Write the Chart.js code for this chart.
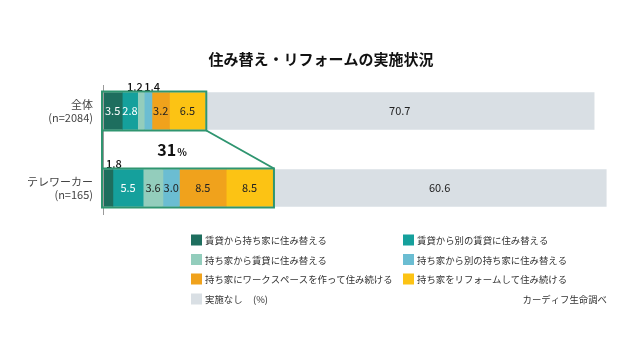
<!DOCTYPE html>
<html>
<head>
<meta charset="utf-8">
<script src="https://cdn.jsdelivr.net/npm/chart.js@4"></script>
<style>
  body { margin: 0; background: #fff; }
  #wrap { width: 640px; height: 360px; position: relative; }
</style>
</head>
<body>
<div id="wrap"><canvas id="chart"></canvas></div>
<script>
// categories and series (%)
const categories = [['全体', '(n=2084)'], ['テレワーカー', '(n=165)']];
const seriesNames = [
  '賃貸から持ち家に住み替える',
  '賃貸から別の賃貸に住み替える',
  '持ち家から賃貸に住み替える',
  '持ち家から別の持ち家に住み替える',
  '持ち家にワークスペースを作って住み続ける',
  '持ち家をリフォームして住み続ける',
  '実施なし'
];
const rentToOwn = [3.5, 1.8];
const rentToRent = [2.8, 5.5];
const ownToRent = [1.2, 3.6];
const ownToOwn = [1.4, 3.0];
const workspace = [3.2, 8.5];
const reform = [6.5, 8.5];
const noChange = [70.7, 60.6];

const colors = ['#1e6e5e', '#15a09c', '#93cdbc', '#6bbdd2', '#f0a21c', '#fcc314', '#d9dfe4'];
const labelColors = ['#fff', '#fff', '#222', '#222', '#222', '#222', '#222'];
const FONT = "'Noto Sans CJK JP', 'Noto Sans', sans-serif";
const FRAME = '#2f9570';

const allSeries = [rentToOwn, rentToRent, ownToRent, ownToOwn, workspace, reform, noChange];

const overlay = {
  id: 'overlay',
  afterDatasetsDraw(chart) {
    const ctx = chart.ctx;
    const xs = chart.scales.x;
    const area = chart.chartArea;
    ctx.save();

    // value labels
    chart.data.datasets.forEach((ds, di) => {
      const meta = chart.getDatasetMeta(di);
      meta.data.forEach((el, i) => {
        const v = ds.data[i];
        const cx = (el.x + el.base) / 2;
        ctx.textAlign = 'center';
        ctx.textBaseline = 'middle';
        if (el.x - el.base < 12) {
          // small segment: label above the bar
          let off = 0;
          if (i === 0) off = di === 2 ? -6 : 4;
          else off = 6;
          ctx.fillStyle = '#111';
          ctx.font = '500 11px ' + FONT;
          ctx.fillText(v.toFixed(1), cx + off, el.y - el.height / 2 - 6);
        } else {
          ctx.font = '11px ' + FONT;
          ctx.fillStyle = labelColors[di];
          ctx.fillText(v.toFixed(1), cx, el.y);
        }
      });
    });

    // vertical axis line
    ctx.strokeStyle = '#9a9a9a';
    ctx.lineWidth = 1;
    ctx.beginPath();
    ctx.moveTo(area.left + 0.5, 85);
    ctx.lineTo(area.left + 0.5, 215);
    ctx.stroke();

    // frames around the "実施あり" part and the zoom trapezoid
    const boxes = categories.map((c, i) => {
      let sum = 0;
      for (let k = 0; k < 6; k++) sum += allSeries[k][i];
      const el = chart.getDatasetMeta(0).data[i];
      return {
        l: xs.getPixelForValue(0) - 1,
        r: xs.getPixelForValue(sum) + 1,
        t: el.y - el.height / 2 - 1,
        b: el.y + el.height / 2 + 1,
        sum: sum
      };
    });
    ctx.strokeStyle = FRAME;
    ctx.lineWidth = 2;
    boxes.forEach(b => ctx.strokeRect(b.l, b.t, b.r - b.l, b.b - b.t));
    ctx.beginPath();
    ctx.moveTo(boxes[0].r, boxes[0].b);
    ctx.lineTo(boxes[1].r, boxes[1].t);
    ctx.moveTo(boxes[0].l, boxes[0].b);
    ctx.lineTo(boxes[1].l, boxes[1].t);
    ctx.stroke();

    // 31%
    const midY = (boxes[0].b + boxes[1].t) / 2;
    const midX = (area.left + (boxes[0].r + boxes[1].r) / 2) / 2;
    const big = String(Math.round(boxes[1].sum));
    ctx.fillStyle = '#111';
    ctx.textBaseline = 'alphabetic';
    ctx.font = 'bold 16px ' + FONT;
    const w1 = ctx.measureText(big).width;
    ctx.font = 'bold 10px ' + FONT;
    const w2 = ctx.measureText('%').width;
    const sx = midX - (w1 + w2) / 2;
    ctx.textAlign = 'left';
    ctx.font = 'bold 16px ' + FONT;
    ctx.fillText(big, sx, midY + 6);
    ctx.font = 'bold 10px ' + FONT;
    ctx.fillText('%', sx + w1 + 1, midY + 6);

    // title
    ctx.textAlign = 'center';
    ctx.textBaseline = 'middle';
    ctx.font = 'bold 15px ' + FONT;
    ctx.fillStyle = '#111';
    ctx.fillText('住み替え・リフォームの実施状況', 321, 59);

    // legend
    const colX = [191, 403];
    const rowY = [240, 259.5, 279, 299];
    ctx.font = '9.4px ' + FONT;
    ctx.textAlign = 'left';
    seriesNames.forEach((name, k) => {
      const x = colX[k % 2];
      const y = rowY[Math.floor(k / 2)];
      ctx.fillStyle = colors[k];
      ctx.fillRect(x, y - 5.5, 11, 11);
      ctx.fillStyle = '#333';
      ctx.fillText(name, x + 14, y + 0.5);
    });
    ctx.fillText('(%)', 253, rowY[3] + 0.5);
    ctx.textAlign = 'right';
    ctx.fillText('カーディフ生命調べ', 607, rowY[3] + 0.5);

    ctx.restore();
  }
};

new Chart(document.getElementById('chart'), {
  type: 'bar',
  data: {
    labels: categories,
    datasets: allSeries.map((d, k) => ({
      label: seriesNames[k],
      data: d,
      backgroundColor: colors[k],
      borderWidth: 0,
      barThickness: 37
    }))
  },
  options: {
    indexAxis: 'y',
    responsive: true,
    maintainAspectRatio: false,
    animation: false,
    layout: { padding: { left: 0, right: 9, top: 72.5, bottom: 133.5 } },
    plugins: {
      legend: { display: false },
      tooltip: { enabled: false },
      title: { display: false }
    },
    scales: {
      x: { stacked: true, min: 0, max: 96, display: false },
      y: {
        stacked: true,
        grid: { display: false, drawTicks: false },
        border: { display: false },
        ticks: {
          padding: 10,
          color: '#444',
          font: { family: FONT, size: 11, lineHeight: 1.2 }
        },
        afterFit(scale) { scale.width = 103; }
      }
    }
  },
  plugins: [overlay]
});
</script>
</body>
</html>
